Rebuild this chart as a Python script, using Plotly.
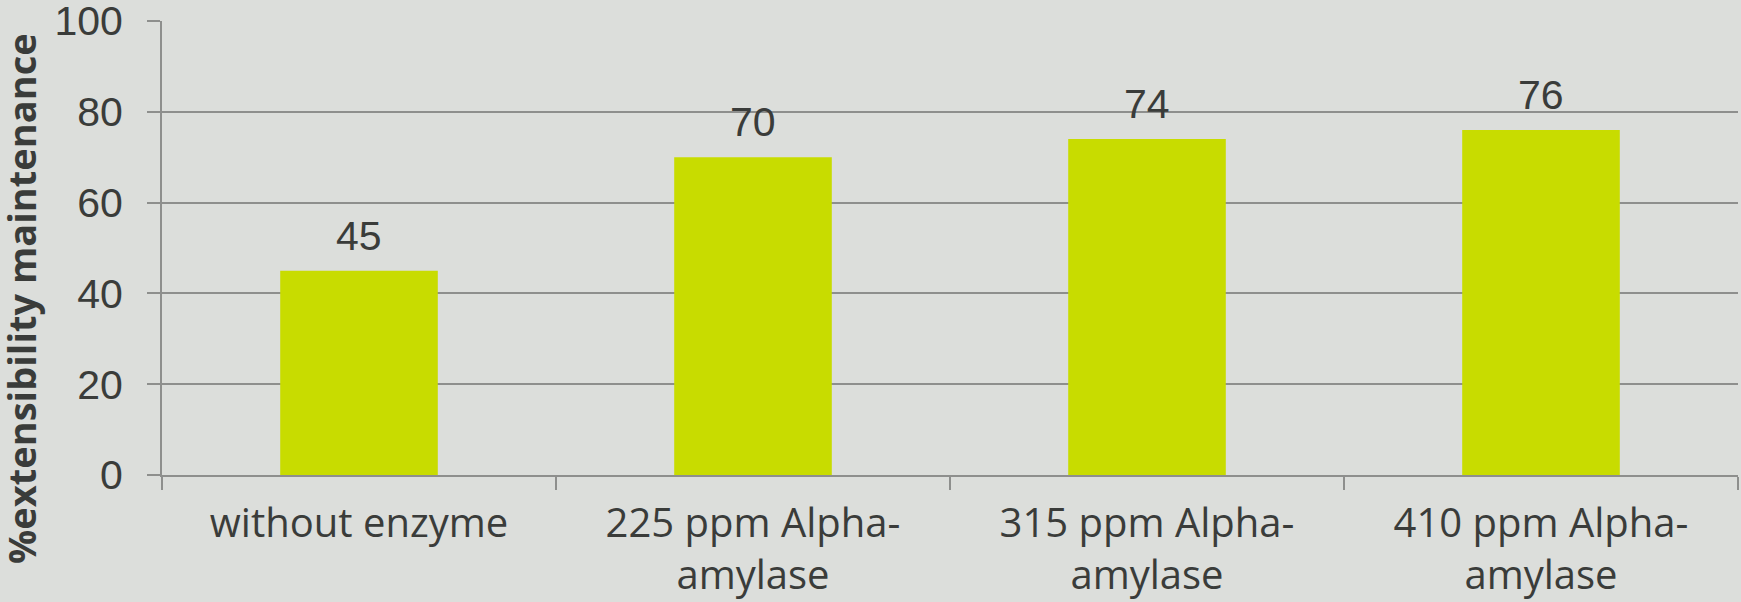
import plotly.graph_objects as go

categories = ["without enzyme", "225 ppm Alpha-<br>amylase", "315 ppm Alpha-<br>amylase", "410 ppm Alpha-<br>amylase"]
values = [45, 70, 74, 76]
y_ticks = [0, 20, 40, 60, 80, 100]
y_title = "%extensibility maintenance"

BG = "#dcdedb"
BAR = "#c8dc00"
GRID = "#8e8f8d"
TXT = "#3a3c3a"

fig = go.Figure()
fig.add_trace(go.Bar(x=categories, y=values, marker=dict(color=BAR, line=dict(width=0)), width=0.4))

for c, v in zip(categories, values):
    fig.add_annotation(x=c, y=v, text=str(v), showarrow=False, yanchor="bottom", yshift=10,
                       font=dict(family="Liberation Sans, Arial", size=41, color=TXT))

fig.add_annotation(xref="paper", yref="paper", x=-0.0895, y=0.39, text="<b>" + y_title + "</b>",
                   textangle=-90, showarrow=False, xanchor="center", yanchor="middle",
                   font=dict(family="Open Sans", size=38, color=TXT))

fig.update_layout(
    width=1741, height=602,
    paper_bgcolor=BG, plot_bgcolor=BG,
    margin=dict(l=162, r=3, t=21, b=127),
    showlegend=False,
    bargap=0.6,
)
fig.update_yaxes(range=[0, 100], tickvals=y_ticks, showgrid=True, gridcolor=GRID, gridwidth=2,
                 showline=True, linecolor=GRID, linewidth=2, ticks="outside", ticklen=13, tickcolor=GRID, tickwidth=2,
                 tickfont=dict(family="Liberation Sans, Arial", size=41, color=TXT), zeroline=False,
                 ticklabelstandoff=16, automargin=False, ticklabeloverflow="allow")
fig.update_xaxes(showline=True, linecolor=GRID, linewidth=2, ticks="outside", ticklen=13, tickcolor=GRID, tickwidth=2,
                 tickson="boundaries", automargin=False, ticklabelstandoff=12, ticklabeloverflow="allow",
                 tickfont=dict(family="Open Sans", size=40, color=TXT))

fig.write_html("out.html", config={"displayModeBar": False},
               post_script="document.body.style.margin='0';document.body.style.background='" + BG + "';")
